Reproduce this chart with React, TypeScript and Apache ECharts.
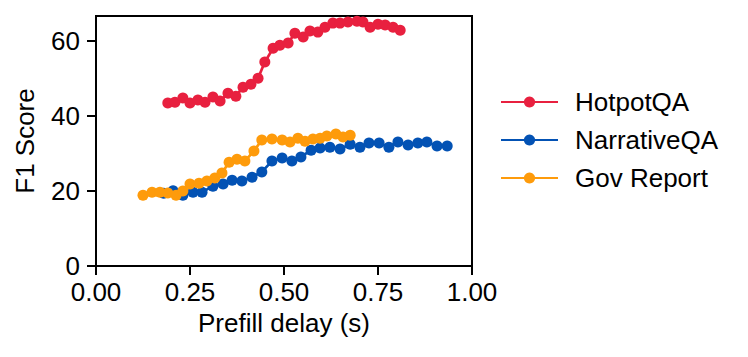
import React, { useEffect, useRef } from "react";
import * as echarts from "echarts";

const seriesNames = ["HotpotQA", "NarrativeQA", "Gov Report"];
const seriesColors = ["#e8203f", "#0352b4", "#fe9b0b"];

const hotpotX = [0.191, 0.21, 0.231, 0.25, 0.271, 0.29, 0.311, 0.33, 0.351, 0.372, 0.391, 0.412, 0.431, 0.449, 0.471, 0.489, 0.511, 0.529, 0.551, 0.569, 0.59, 0.609, 0.63, 0.649, 0.67, 0.694, 0.71, 0.729, 0.75, 0.769, 0.79, 0.809];
const hotpotY = [43.5, 43.7, 44.8, 43.5, 44.3, 43.7, 45.1, 44.0, 46.1, 45.3, 47.7, 48.5, 50.1, 54.4, 58.1, 58.9, 59.5, 62.1, 61.1, 62.7, 62.4, 63.7, 64.8, 64.8, 65.1, 65.3, 65.1, 63.7, 64.5, 64.3, 63.7, 62.9];

const narrativeX = [0.18, 0.205, 0.231, 0.258, 0.282, 0.311, 0.338, 0.362, 0.388, 0.415, 0.441, 0.468, 0.495, 0.521, 0.545, 0.572, 0.596, 0.622, 0.649, 0.676, 0.702, 0.726, 0.753, 0.779, 0.803, 0.83, 0.856, 0.88, 0.907, 0.934];
const narrativeY = [19.4, 20.1, 18.9, 19.7, 19.7, 21.3, 21.9, 22.9, 22.7, 23.7, 25.1, 28.0, 28.8, 28.0, 29.1, 30.9, 31.5, 31.7, 31.2, 32.5, 31.7, 32.8, 32.8, 31.7, 33.1, 32.3, 32.8, 33.1, 32.0, 32.0];

const govX = [0.125, 0.149, 0.17, 0.191, 0.213, 0.231, 0.25, 0.274, 0.295, 0.316, 0.335, 0.354, 0.375, 0.396, 0.42, 0.441, 0.468, 0.495, 0.516, 0.537, 0.556, 0.577, 0.596, 0.614, 0.638, 0.657, 0.676];
const govY = [18.9, 19.7, 19.7, 19.5, 18.9, 20.0, 21.9, 22.1, 22.7, 23.5, 24.8, 27.7, 28.5, 28.0, 30.7, 33.6, 33.9, 33.6, 33.1, 34.1, 33.3, 33.9, 34.1, 34.7, 35.2, 34.4, 34.9];

const xTicks = [0, 0.25, 0.5, 0.75, 1.0];
const yTicks = [0, 20, 40, 60];

const FONT = "Liberation Sans, Arial, Helvetica, sans-serif";
const FS = 26;

function pairs(xs: number[], ys: number[]) {
  return xs.map((x, i) => [x, ys[i]]);
}

export default function App() {
  const ref = useRef<HTMLDivElement>(null);
  useEffect(() => {
    if (!ref.current) return;
    const chart = echarts.init(ref.current, null, { renderer: "svg" });
    const allX = [hotpotX, narrativeX, govX];
    const allY = [hotpotY, narrativeY, govY];
    chart.setOption({
      animation: false,
      backgroundColor: "#ffffff",
      textStyle: { fontFamily: FONT, color: "#000" },
      grid: {
        left: 96,
        right: 276,
        top: 16,
        bottom: 91,
        show: true,
        borderColor: "#000",
        borderWidth: 2,
        backgroundColor: "transparent",
      },
      legend: {
        orient: "vertical",
        left: 495,
        top: 84,
        itemWidth: 57,
        itemHeight: 14,
        itemGap: 12,
        data: seriesNames,
        textStyle: {
          fontFamily: FONT,
          fontSize: FS,
          lineHeight: FS,
          color: "#000",
          padding: [0, 0, 0, 12],
        },
      },
      xAxis: {
        type: "value",
        min: 0,
        max: 1,
        interval: 0.25,
        name: "Prefill delay (s)",
        nameLocation: "middle",
        nameGap: 44,
        nameTextStyle: { fontFamily: FONT, fontSize: FS, color: "#000" },
        axisLine: { show: true, onZero: false, lineStyle: { color: "#000", width: 2 } },
        axisTick: { show: true, inside: false, length: 9, lineStyle: { color: "#000", width: 2 }, customValues: xTicks },
        axisLabel: {
          fontFamily: FONT,
          fontSize: FS,
          color: "#000",
          margin: 13,
          customValues: xTicks,
          formatter: (v: number) => v.toFixed(2),
        },
        splitLine: { show: false },
      },
      yAxis: {
        type: "value",
        min: 0,
        max: 66.7,
        interval: 20,
        name: "F1 Score",
        nameLocation: "middle",
        nameGap: 58,
        nameRotate: 90,
        nameTextStyle: { fontFamily: FONT, fontSize: FS, color: "#000" },
        axisLine: { show: true, onZero: false, lineStyle: { color: "#000", width: 2 } },
        axisTick: { show: true, inside: false, length: 9, lineStyle: { color: "#000", width: 2 }, customValues: yTicks },
        axisLabel: {
          fontFamily: FONT,
          fontSize: FS,
          color: "#000",
          margin: 16,
          customValues: yTicks,
        },
        splitLine: { show: false },
      },
      series: seriesNames.map((name, i) => ({
        name,
        type: "line",
        data: pairs(allX[i], allY[i]),
        symbol: "circle",
        symbolSize: 11,
        showSymbol: true,
        color: seriesColors[i],
        itemStyle: { color: seriesColors[i] },
        lineStyle: { color: seriesColors[i], width: 2.7 },
        z: 2 + i,
      })),
    });
    return () => chart.dispose();
  }, []);
  return (
    <div
      ref={ref}
      style={{ position: "fixed", left: 0, top: 0, width: 748, height: 357, background: "#fff" }}
    />
  );
}
